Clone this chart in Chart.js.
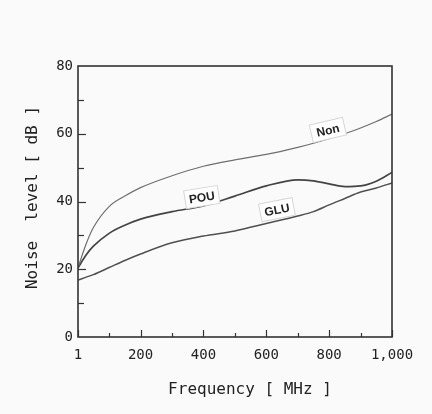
<!DOCTYPE html>
<html>
<head>
<meta charset="utf-8">
<script src="https://cdn.jsdelivr.net/npm/chart.js@4"></script>
<style>
  html, body { margin: 0; padding: 0; background: #fafafa; }
  #wrap { width: 432px; height: 414px; }
</style>
</head>
<body>
<div id="wrap"><canvas id="noiseChart" width="432" height="414"></canvas></div>
<script>
// Frequency points (MHz) shared by all three curves
const freq = [1, 25, 50, 100, 150, 200, 300, 400, 500, 600, 700, 750, 800, 850, 900, 950, 1000];
// Noise level [dB]
const nonLevel = [20.4, 27, 32.3, 38.5, 41.6, 44.1, 47.6, 50.4, 52.3, 53.9, 56, 57.2, 58.6, 60, 61.7, 63.6, 65.8];
const pouLevel = [20.4, 24, 26.8, 30.6, 33, 34.8, 37, 38.7, 41.6, 44.6, 46.4, 46.1, 45.2, 44.4, 44.6, 46, 48.6];
const gluLevel = [16.8, 17.6, 18.4, 20.5, 22.6, 24.5, 27.8, 29.8, 31.3, 33.5, 35.7, 37, 39, 40.9, 42.8, 44, 45.5];

const xTicks = [1, 100, 200, 300, 400, 500, 600, 700, 800, 900, 1000];
const xLabels = { 1: "1", 200: "200", 400: "400", 600: "600", 800: "800", 1000: "1,000" };
const yLabels = [0, 20, 40, 60, 80];

// curve name tags: [text, freq, level, angle in degrees]
const tags = [
  ["Non", 796, 61.1, -13],
  ["POU", 395, 41.3, -9],
  ["GLU", 634, 37.6, -11]
];

const mono = "'DejaVu Sans Mono', monospace";
const ink = "#222";

const toPoints = arr => arr.map((v, i) => ({ x: freq[i], y: v }));

// frame, inward ticks, axis titles and curve tags
const decor = {
  id: "decor",
  afterDatasetsDraw(chart) {
    const { ctx, chartArea: a, scales: { x, y } } = chart;
    ctx.save();
    ctx.strokeStyle = "#333";
    ctx.lineWidth = 1.2;
    xTicks.forEach(v => {
      const px = Math.round(x.getPixelForValue(v)) + 0.5;
      const len = xLabels[v] ? 7 : 4;
      ctx.beginPath(); ctx.moveTo(px, a.bottom); ctx.lineTo(px, a.bottom - len); ctx.stroke();
    });
    for (let v = 10; v < 80; v += 10) {
      const py = Math.round(y.getPixelForValue(v)) + 0.5;
      const len = v % 20 === 0 ? 8 : 6;
      ctx.beginPath(); ctx.moveTo(a.left, py); ctx.lineTo(a.left + len, py); ctx.stroke();
    }
    ctx.lineWidth = 1.6;
    ctx.strokeRect(a.left, a.top, a.right - a.left, a.bottom - a.top);

    // axis titles
    ctx.fillStyle = ink;
    ctx.font = "16px " + mono;
    ctx.textAlign = "center";
    ctx.textBaseline = "middle";
    ctx.fillText("Frequency [ MHz ]", (a.left + a.right) / 2 + 15, a.bottom + 53);
    ctx.save();
    ctx.translate(a.left - 45, (a.top + a.bottom) / 2 - 4);
    ctx.rotate(-Math.PI / 2);
    ctx.fillText("Noise  level [ dB ]", 0, 0);
    ctx.restore();

    // tags
    ctx.font = "bold 12px 'Liberation Sans', Arial, sans-serif";
    tags.forEach(([txt, fx, fy, ang]) => {
      const px = x.getPixelForValue(fx), py = y.getPixelForValue(fy);
      ctx.save();
      ctx.translate(px, py);
      ctx.rotate(ang * Math.PI / 180);
      ctx.fillStyle = "#ffffff";
      ctx.fillRect(-17, -9, 34, 18);
      ctx.strokeStyle = "#d6d6d6";
      ctx.lineWidth = 1;
      ctx.strokeRect(-17, -9, 34, 18);
      ctx.fillStyle = "#222";
      ctx.fillText(txt, 0, 1);
      ctx.restore();
    });
    ctx.restore();
  }
};

new Chart(document.getElementById("noiseChart"), {
  type: "line",
  data: {
    datasets: [
      { label: "Non", data: toPoints(nonLevel), borderColor: "#6f6f6f", borderWidth: 1.2 },
      { label: "POU", data: toPoints(pouLevel), borderColor: "#444444", borderWidth: 1.7 },
      { label: "GLU", data: toPoints(gluLevel), borderColor: "#505050", borderWidth: 1.5 }
    ]
  },
  options: {
    responsive: false,
    animation: false,
    layout: { padding: { top: 66, right: 40, left: 0, bottom: 0 } },
    elements: {
      point: { radius: 0 },
      line: { cubicInterpolationMode: "monotone", fill: false }
    },
    plugins: { legend: { display: false }, tooltip: { enabled: false } },
    scales: {
      x: {
        type: "linear",
        min: 1,
        max: 1000,
        grid: { display: false, drawTicks: false },
        border: { display: false },
        afterBuildTicks: s => { s.ticks = xTicks.map(v => ({ value: v })); },
        afterFit: s => { s.height = 77; },
        ticks: {
          autoSkip: false,
          maxRotation: 0,
          padding: 10,
          color: ink,
          font: { family: mono, size: 14 },
          callback: v => xLabels[v] || ""
        }
      },
      y: {
        min: 0,
        max: 80,
        grid: { display: false, drawTicks: false },
        border: { display: false },
        afterBuildTicks: s => { s.ticks = yLabels.map(v => ({ value: v })); },
        afterFit: s => { s.width = 78; },
        ticks: {
          padding: 5,
          color: ink,
          font: { family: mono, size: 14 }
        }
      }
    }
  },
  plugins: [decor]
});
</script>
</body>
</html>
